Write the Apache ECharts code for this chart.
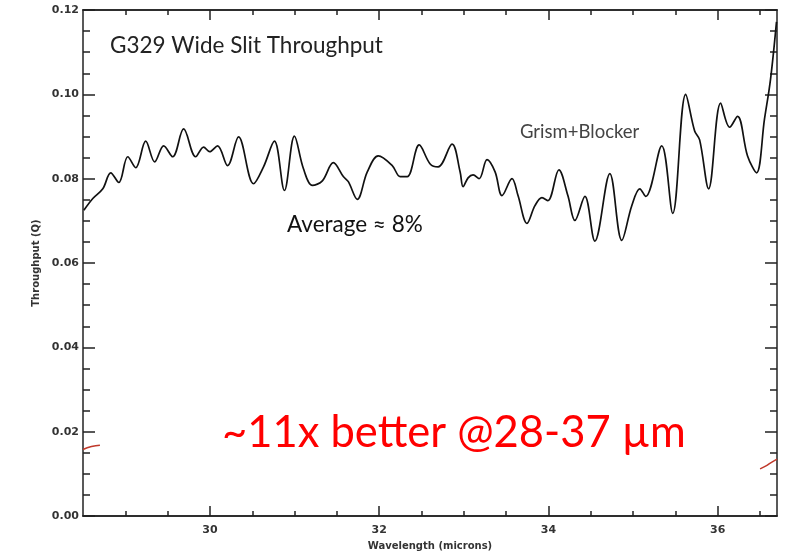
<!DOCTYPE html>
<html><head><meta charset="utf-8">
<script src="https://cdn.jsdelivr.net/npm/echarts@6/dist/echarts.min.js"></script>
<style>html,body{margin:0;padding:0;background:#fff}#c{width:790px;height:556px}</style>
</head><body><div id="c"></div>
<script>
const wavelength = [28.51,28.616,28.734,28.828,28.923,29.029,29.123,29.241,29.347,29.453,29.56,29.689,29.831,29.925,29.996,30.09,30.208,30.338,30.515,30.633,30.762,30.88,30.998,31.104,31.211,31.328,31.458,31.576,31.635,31.741,31.859,31.989,32.154,32.248,32.331,32.472,32.602,32.696,32.861,32.956,32.991,33.05,33.109,33.18,33.274,33.369,33.451,33.569,33.64,33.746,33.84,33.923,33.993,34.123,34.229,34.312,34.43,34.548,34.725,34.866,34.984,35.079,35.149,35.338,35.468,35.621,35.727,35.786,35.892,36.034,36.14,36.234,36.352,36.458,36.552,36.623,36.694];
const throughput = [0.0725,0.0753,0.0776,0.0814,0.0791,0.0852,0.0826,0.0889,0.0840,0.0878,0.0852,0.0918,0.0852,0.0875,0.0864,0.0878,0.0831,0.0899,0.0788,0.0828,0.0889,0.0772,0.0901,0.0824,0.0784,0.0795,0.0838,0.0805,0.0793,0.0751,0.0816,0.0854,0.0831,0.0805,0.0805,0.0880,0.0835,0.0828,0.0882,0.0816,0.0781,0.0802,0.0809,0.0800,0.0845,0.0816,0.0760,0.0800,0.0760,0.0694,0.0736,0.0755,0.0748,0.0821,0.0760,0.0701,0.0758,0.0652,0.0812,0.0654,0.0736,0.0776,0.0758,0.0878,0.0718,0.1000,0.0913,0.0892,0.0776,0.0979,0.0922,0.0948,0.0854,0.0814,0.0941,0.1035,0.1172];
const oldLeftX = [28.5,28.6,28.7];
const oldLeftY = [0.0158,0.0165,0.0168];
const oldRightX = [36.5,36.57,36.63,36.7];
const oldRightY = [0.0112,0.0119,0.0127,0.0135];
const xTickLabels = [30,32,34,36];
const xMinorTicks = [29,29.5,30.5,31,31.5,32.5,33,33.5,34.5,35,35.5,36.5];

const zip = (a,b)=>a.map((v,i)=>[v,b[i]]);
const chart = echarts.init(document.getElementById('c'));
const axisColor = '#222';
const lblStyle = {color:'#333', fontSize:11, fontWeight:'bold', fontFamily:'DejaVu Sans'};
const xBase = {type:'value', min:28.5, max:36.7, splitLine:{show:false},
  axisLine:{show:true, lineStyle:{color:axisColor, width:1.5}}};
const yBase = {type:'value', min:0, max:0.12, interval:0.02, splitLine:{show:false},
  axisLine:{show:true, lineStyle:{color:axisColor, width:1.5}}};
chart.setOption({
  animation:false,
  grid:{left:83, right:13, top:10, bottom:36},
  xAxis:[
    Object.assign({}, xBase, {position:'bottom', name:'Wavelength (microns)', nameLocation:'middle', nameGap:22,
      nameTextStyle:{color:'#333', fontSize:10, fontWeight:'bold', fontFamily:'DejaVu Sans'},
      axisLabel:Object.assign({customValues:xTickLabels, margin:9}, lblStyle),
      axisTick:{customValues:xTickLabels, inside:true, length:10, lineStyle:{color:axisColor, width:1.5}}}),
    Object.assign({}, xBase, {position:'bottom', axisLabel:{show:false},
      axisTick:{customValues:xMinorTicks, inside:true, length:5, lineStyle:{color:axisColor, width:1.5}}}),
    Object.assign({}, xBase, {position:'top', axisLabel:{show:false},
      axisTick:{customValues:xTickLabels, inside:true, length:10, lineStyle:{color:axisColor, width:1.5}}}),
    Object.assign({}, xBase, {position:'top', axisLabel:{show:false},
      axisTick:{customValues:xMinorTicks, inside:true, length:5, lineStyle:{color:axisColor, width:1.5}}})
  ],
  yAxis:[
    Object.assign({}, yBase, {position:'left', name:'Throughput (Q)', nameLocation:'middle', nameGap:40, nameRotate:90,
      nameTextStyle:{color:'#333', fontSize:10, fontWeight:'bold', fontFamily:'DejaVu Sans'},
      axisLabel:Object.assign({margin:4, formatter:v=>v.toFixed(2)}, lblStyle),
      axisTick:{inside:true, length:12, lineStyle:{color:axisColor, width:1.5}},
      minorTick:{show:true, splitNumber:4, length:7, lineStyle:{color:axisColor, width:1.5}}}),
    Object.assign({}, yBase, {position:'right', axisLabel:{show:false},
      axisTick:{inside:true, length:12, lineStyle:{color:axisColor, width:1.5}},
      minorTick:{show:true, splitNumber:4, length:7, lineStyle:{color:axisColor, width:1.5}}})
  ],
  series:[
    {type:'line', data:zip(wavelength, throughput), smooth:0.35, showSymbol:false,
      lineStyle:{color:'#111', width:1.7}},
    {type:'line', data:zip(oldLeftX, oldLeftY), smooth:true, showSymbol:false, lineStyle:{color:'#c0392b', width:1.5}},
    {type:'line', data:zip(oldRightX, oldRightY), smooth:true, showSymbol:false, lineStyle:{color:'#c0392b', width:1.5}}
  ],
  graphic:[
    {type:'text', x:110, y:46, style:{text:'G329 Wide Slit Throughput', fill:'#222', font:'22.5px Lato', verticalAlign:'middle'}},
    {type:'text', x:520, y:132, style:{text:'Grism+Blocker', fill:'#444', font:'18.5px Lato', verticalAlign:'middle'}},
    {type:'text', x:287, y:225, style:{text:'Average \u2248 8%', fill:'#111', font:'22.5px Lato', verticalAlign:'middle'}},
    {type:'text', x:222, y:433, style:{text:'~11x better @28-37 \u00b5m', fill:'#ff0000', font:'43.5px Lato', verticalAlign:'middle'}}
  ]
});
</script></body></html>
